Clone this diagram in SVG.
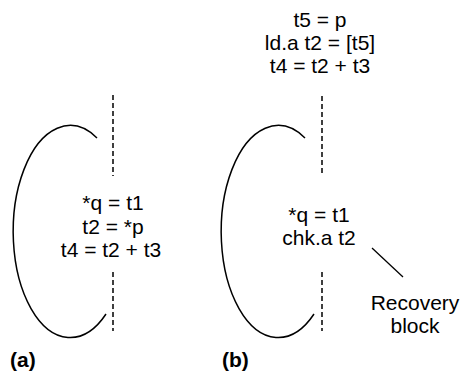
<svg xmlns="http://www.w3.org/2000/svg" width="461" height="373" viewBox="0 0 461 373">
  <style>
    .code { font-family: "Liberation Sans", Arial, sans-serif; font-size: 21px; fill: #000; text-anchor: middle; }
    .tag { font-family: "Liberation Sans", Arial, sans-serif; font-size: 21px; font-weight: bold; fill: #000; }
    .loop { fill: none; stroke: #000; stroke-width: 1.5; }
    .cut { fill: none; stroke: #000; stroke-width: 1.5; stroke-dasharray: 5 3; }
    .lead { fill: none; stroke: #000; stroke-width: 1.3; }
  </style>
  <rect width="461" height="373" fill="#fff"/>

  <!-- panel (a): loop with the original sequence -->
  <g id="panel-a">
    <path class="loop" d="M97,138 A57,106 0 1 0 106,314"/>
    <g id="a-code">
      <text class="code" x="113" y="210">*q = t1</text>
      <text class="code" x="113" y="233.5">t2 = *p</text>
      <text class="code" x="111" y="257">t4 = t2 + t3</text>
    </g>
    <text class="tag" x="10" y="367">(a)</text>
  </g>

  <!-- panel (b): advanced load hoisted above the loop, check stays inside -->
  <g id="panel-b">
    <g id="b-hoisted">
      <text class="code" x="320" y="27">t5 = p</text>
      <text class="code" x="320" y="50">ld.a t2 = [t5]</text>
      <text class="code" x="320" y="73">t4 = t2 + t3</text>
    </g>
    <path class="loop" d="M305,138 A57,106 0 1 0 314,314"/>
    <g id="b-check">
      <text class="code" x="319" y="222">*q = t1</text>
      <text class="code" x="319" y="245">chk.a t2</text>
    </g>
    <g id="recovery">
      <text class="code" x="415" y="310">Recovery</text>
      <text class="code" x="415" y="333">block</text>
    </g>
    <text class="tag" x="222" y="367">(b)</text>
  </g>

  <!-- connectors: boundary cuts and the recovery pointer -->
  <g id="connectors">
    <line class="cut" x1="113" y1="95" x2="113" y2="176"/>
    <line class="cut" x1="113" y1="272" x2="113" y2="331"/>
    <line class="cut" x1="322" y1="96" x2="322" y2="175"/>
    <line class="cut" x1="322" y1="272" x2="322" y2="331"/>
    <line class="lead" x1="372" y1="248" x2="403" y2="277"/>
  </g>
</svg>
